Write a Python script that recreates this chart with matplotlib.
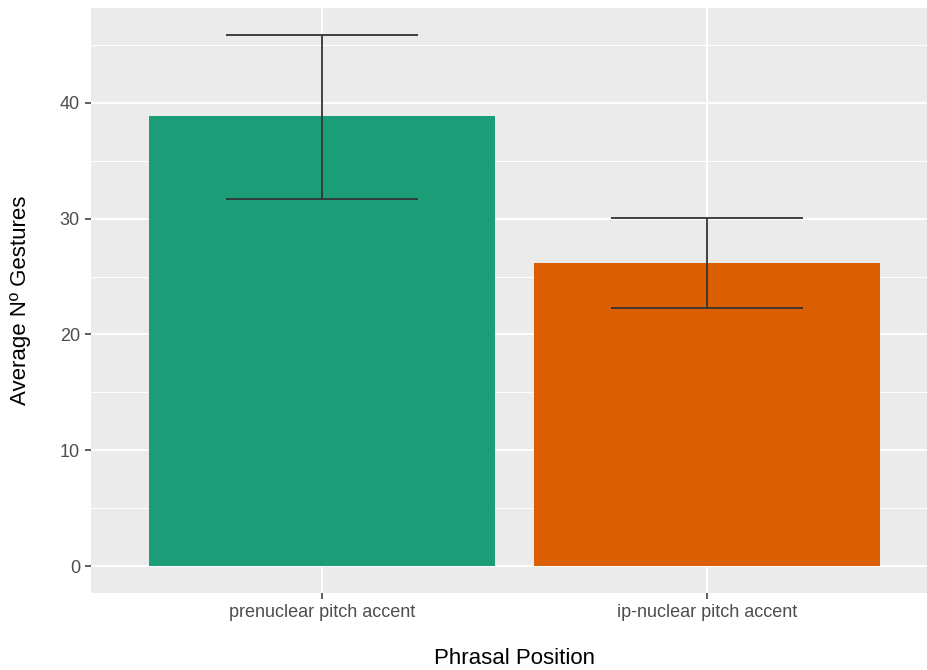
import matplotlib.pyplot as plt
import numpy as np

categories = ['prenuclear pitch accent', 'ip-nuclear pitch accent']
means = [38.9, 26.2]
err_low = [31.7, 22.3]
err_high = [45.9, 30.1]
colors = ['#1B9E77', '#D95F02']

plt.rcParams['font.family'] = ['Liberation Sans', 'DejaVu Sans']

fig = plt.figure(figsize=(9.27, 6.70), dpi=100)
# panel spans x 91..938 px (cropped at right edge), y 8..593 px
ax = fig.add_axes([91 / 927, (670 - 593) / 670, 847 / 927, 585 / 670])
ax.set_facecolor('#EBEBEB')

x = np.arange(1, len(categories) + 1)
ax.bar(x, means, width=0.9, color=colors, zorder=2)
m = np.array(means)
yerr = [m - np.array(err_low), np.array(err_high) - m]
ax.errorbar(x, means, yerr=yerr, fmt='none', ecolor='#333333', elinewidth=1.3,
            capsize=69, capthick=1.3, zorder=3)

ax.set_xlim(0.4, 2.6)
ax.set_ylim(-2.33, 48.2)
ax.set_xticks(x)
ax.set_xticklabels(categories)
ax.set_yticks([0, 10, 20, 30, 40])
ax.set_yticks([5, 15, 25, 35, 45], minor=True)

ax.grid(which='major', color='white', linewidth=1.4, zorder=0)
ax.grid(which='minor', axis='y', color='white', linewidth=0.7, zorder=0)
ax.set_axisbelow(True)
for s in ax.spines.values():
    s.set_visible(False)

ax.tick_params(which='major', length=4, width=1.1, color='#333333',
               labelcolor='#4D4D4D', labelsize=13, pad=4)
ax.tick_params(which='minor', length=0)

ax.set_xlabel('Phrasal Position', fontsize=16, color='black', labelpad=19)
ax.set_ylabel('Average Nº Gestures', fontsize=16, color='black', labelpad=21)

fig.savefig('out.png', dpi=100)
